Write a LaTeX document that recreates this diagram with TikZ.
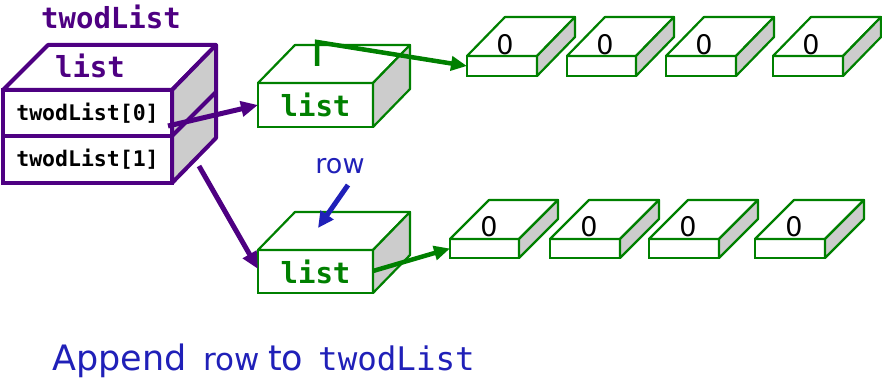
\documentclass[tikz,border=0pt]{standalone}
\usepackage{fontspec}
\setmainfont{DejaVu Sans}
\setmonofont{DejaVu Sans Mono}
\usetikzlibrary{arrows.meta}
\definecolor{purp}{RGB}{78,0,130}
\definecolor{grn}{RGB}{0,128,0}
\definecolor{blu}{RGB}{32,32,184}
\definecolor{sidegray}{RGB}{204,204,204}
\tikzset{
  face/.style={draw, fill=white, inner sep=0pt, outer sep=0pt, anchor=north west},
  pface/.style={face, draw=purp, line width=4pt},
  parrow/.style={draw=purp, line width=5pt, -{Triangle[length=17pt,width=15pt]}},
  garrow/.style={draw=grn, line width=4.5pt, -{Triangle[length=16pt,width=14pt]}},
  barrow/.style={draw=blu, line width=5pt, -{Triangle[length=16pt,width=15pt]}},
  monolbl/.style={font=\ttfamily\bfseries\fontsize{29}{29}\selectfont},
  zerolbl/.style={font=\fontsize{27}{27}\selectfont},
}
% #1 name, #2 x, #3 y, #4 w, #5 h, #6 dx, #7 dy, #8 color, #9 line width
\newcommand\flatbox[9]{%
  \node[face, draw=#8, line width=#9, minimum width=#4pt, minimum height=#5pt] (#1) at (#2,#3) {};
  \draw[#8, line width=#9, line join=round, fill=white] (#1.north west) -- ++(#6,#7) -- ++(#4,0) -- (#1.north east) -- cycle;
  \draw[#8, line width=#9, line join=round, fill=sidegray] (#1.north east) -- ++(#6,#7) -- ++(0,#5) -- (#1.south east) -- cycle;
}
\begin{document}
\begin{tikzpicture}[x=1pt,y=-1pt]
\useasboundingbox (0,0) rectangle (882,379);

% title
\node[text=purp, monolbl] (title) at (111,17) {twodList};

% twodList box
\draw[purp, line width=4pt, line join=round, fill=white] (3,90) -- (48,45) -- (216,45) -- (172,90) -- cycle;
\draw[purp, line width=4pt, line join=round, fill=sidegray] (172,90) -- (216,45) -- (216,138) -- (172,183) -- cycle;
\node[pface, minimum width=169pt, minimum height=46pt] (r0) at (3,90) {};
\node[pface, minimum width=169pt, minimum height=47pt] (r1) at (3,136) {};
\node[font=\ttfamily\bfseries\fontsize{21.5}{21.5}\selectfont] (r0t) at (r0.center) {twodList[0]};
\node[font=\ttfamily\bfseries\fontsize{21.5}{21.5}\selectfont] (r1t) at (r1.center) {twodList[1]};
\draw[purp, line width=4pt] (r0.south east) -- (216,92);
\node[text=purp, monolbl] (plist) at (90,66) {list};

% top row list
\flatbox{tl}{258}{83}{115}{44}{37}{-38}{grn}{2.2pt}
\node[text=grn, monolbl] (tlt) at (tl.center) {list};
% bottom row list
\flatbox{bl}{258}{250}{115}{43}{37}{-38}{grn}{2.2pt}
\node[text=grn, monolbl] (blt) at (bl.center) {list};

% top zeros
\flatbox{za}{467}{56}{70}{20}{38}{-39}{grn}{2.2pt}
\flatbox{zb}{567}{56}{69}{20}{38}{-39}{grn}{2.2pt}
\flatbox{zc}{666}{56}{70}{20}{38}{-39}{grn}{2.2pt}
\flatbox{zd}{773}{56}{70}{20}{38}{-39}{grn}{2.2pt}
\foreach \n/\x in {za0/505, zb0/605, zc0/704, zd0/811}
  \node[zerolbl] (\n) at (\x,45) {0};

% bottom zeros
\flatbox{ya}{450}{239}{69}{19}{39}{-39}{grn}{2.2pt}
\flatbox{yb}{550}{239}{70}{19}{39}{-39}{grn}{2.2pt}
\flatbox{yc}{649}{239}{70}{19}{39}{-39}{grn}{2.2pt}
\flatbox{yd}{755}{239}{70}{19}{39}{-39}{grn}{2.2pt}
\foreach \n/\x in {ya0/489, yb0/589, yc0/688, yd0/794}
  \node[zerolbl] (\n) at (\x,227) {0};

% connectors
\coordinate (p0) at (168,126);
\coordinate (p1) at (199,166);
\draw[parrow] (p0) -- (tl.west);
\draw[parrow] (p1) -- (258,269);
\coordinate (g0) at (317,66);
\draw[garrow] (g0) -- (317,42) -- (za.west);
\draw[garrow] (373,271) -- (ya.west);

% row label
\node[text=blu, font=\fontsize{27}{27}\selectfont] (row) at (340,166) {row};
\coordinate (rowtip) at (318,228);
\draw[barrow] (348,185) -- (rowtip);

% caption
\node[text=blu, anchor=base west, inner sep=0pt, font=\fontsize{35}{35}\selectfont] (cap1) at (52,370) {Append};
\node[text=blu, anchor=base west, inner sep=0pt, font=\fontsize{31}{31}\selectfont] (cap2) at (203,370) {row};
\node[text=blu, anchor=base west, inner sep=0pt, font=\fontsize{35}{35}\selectfont] (cap3) at (268,370) {to};
\node[text=blu, anchor=base west, inner sep=0pt, font=\ttfamily\fontsize{32.5}{32.5}\selectfont] (cap4) at (318,370) {twodList};
\end{tikzpicture}
\end{document}
